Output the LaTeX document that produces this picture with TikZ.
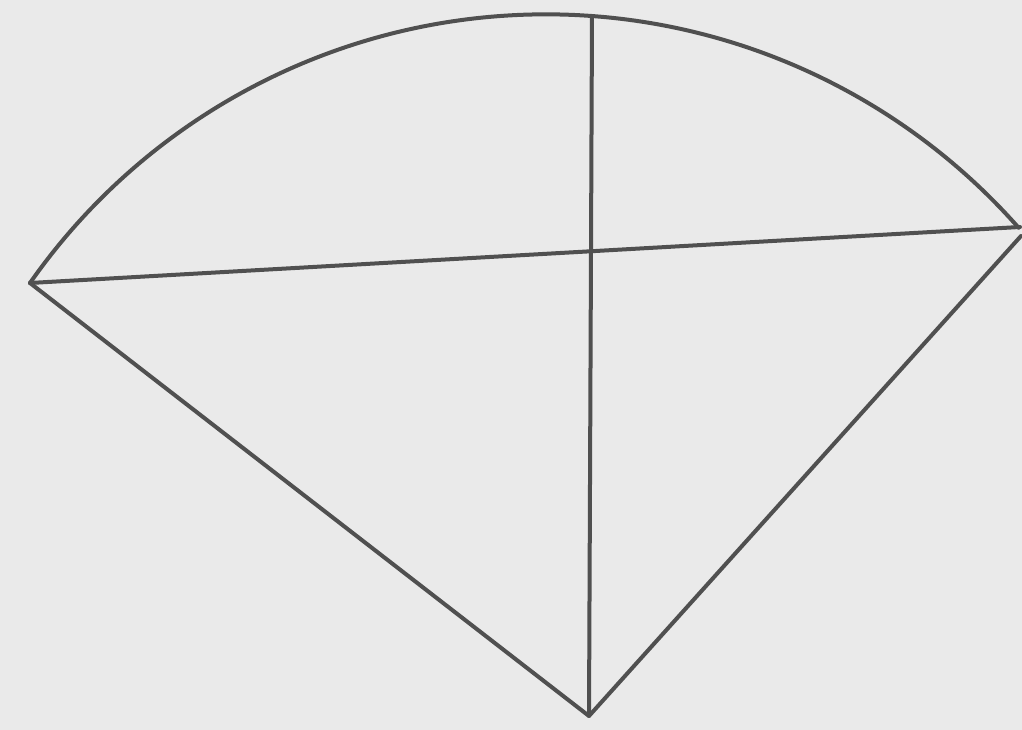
\documentclass[tikz,border=0pt]{standalone}
\definecolor{paper}{HTML}{EAEAEA}
\definecolor{ink}{HTML}{505050}
\tikzset{
  edge/.style={draw=ink, line width=4pt, line cap=round, line join=round},
}
\begin{document}
\begin{tikzpicture}[x=1pt,y=1pt]
  \fill[paper] (0,0) rectangle (1022,730);
  \useasboundingbox (0,0) rectangle (1022,730);
  % y measured upward: y = 730 - pixel row
  \coordinate (L) at (30,447);
  \coordinate (R) at (1020,503);
  \coordinate (Rr) at (1021,494);
  \coordinate (T) at (592,714);
  \coordinate (O) at (589,14);
  % arc: centre (546.4,85.6), radius 630
  \draw[edge] (L) arc[start angle=145, end angle=41.4, radius=630];
  \draw[edge] (L) -- (O) -- (Rr);
  \draw[edge] (T) -- (O);
  \draw[edge] (L) -- (R);
\end{tikzpicture}
\end{document}
